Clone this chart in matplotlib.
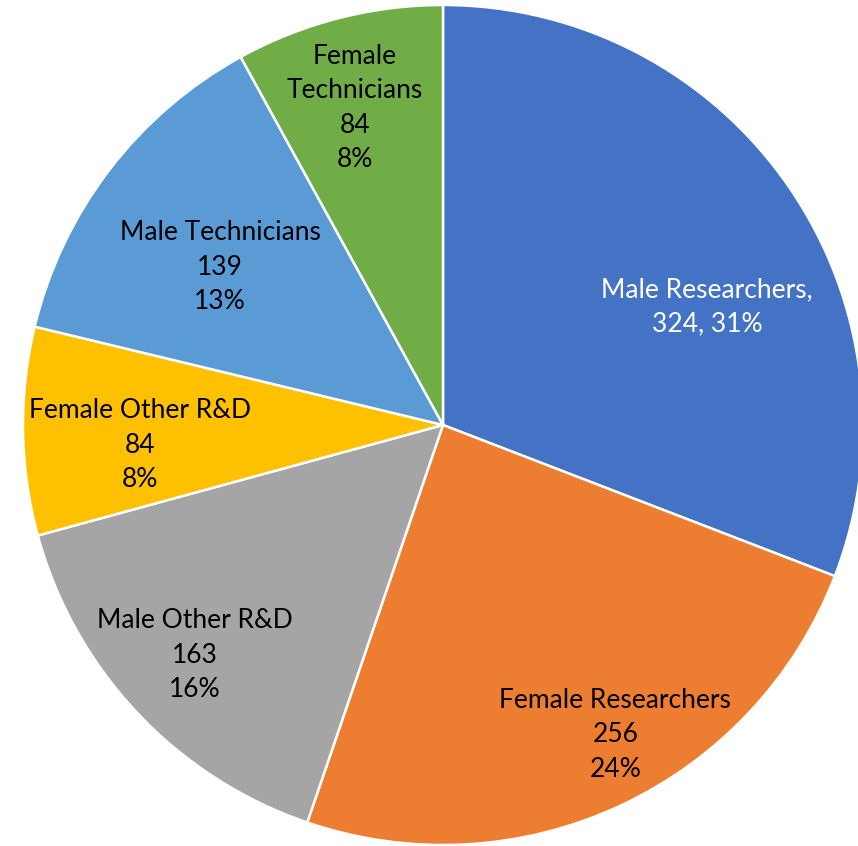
import matplotlib.pyplot as plt

# Data
categories = ["Male Researchers", "Female Researchers", "Male Other R&D",
              "Female Other R&D", "Male Technicians", "Female Technicians"]
values = [324, 256, 163, 84, 139, 84]
colors = ["#4472C4", "#ED7D31", "#A5A5A5", "#FFC000", "#5B9BD5", "#70AD47"]
label_texts = ["Male Researchers,\n324, 31%",
               "Female Researchers\n256\n24%",
               "Male Other R&D\n163\n16%",
               "Female Other R&D\n84\n8%",
               "Male Technicians\n139\n13%",
               "Female\nTechnicians\n84\n8%"]
text_colors = ["white", "black", "black", "black", "black", "black"]
# label centres, in units of the pie radius
label_pos = [(0.629, 0.281), (0.410, -0.738), (-0.590, -0.548),
             (-0.721, -0.048), (-0.531, 0.376), (-0.210, 0.755)]

plt.rcParams['font.family'] = ['Lato', 'DejaVu Sans']

fig = plt.figure(figsize=(8.58, 8.46), dpi=100)
W, H = 858, 846
cx, cy, r = 443, 425, 420
ax = fig.add_axes([(cx - r) / W, (H - cy - r) / H, 2 * r / W, 2 * r / H])

ax.pie(values, colors=colors, startangle=90, counterclock=False,
       wedgeprops=dict(edgecolor="white", linewidth=1.8))
ax.set_xlim(-1, 1)
ax.set_ylim(-1, 1)
ax.set_aspect("equal")
ax.axis("off")

for txt, (x, y), c in zip(label_texts, label_pos, text_colors):
    ax.text(x, y, txt, ha="center", va="center", color=c,
            fontsize=19, linespacing=1.48, multialignment="center")

fig.savefig("out.png", dpi=100)
